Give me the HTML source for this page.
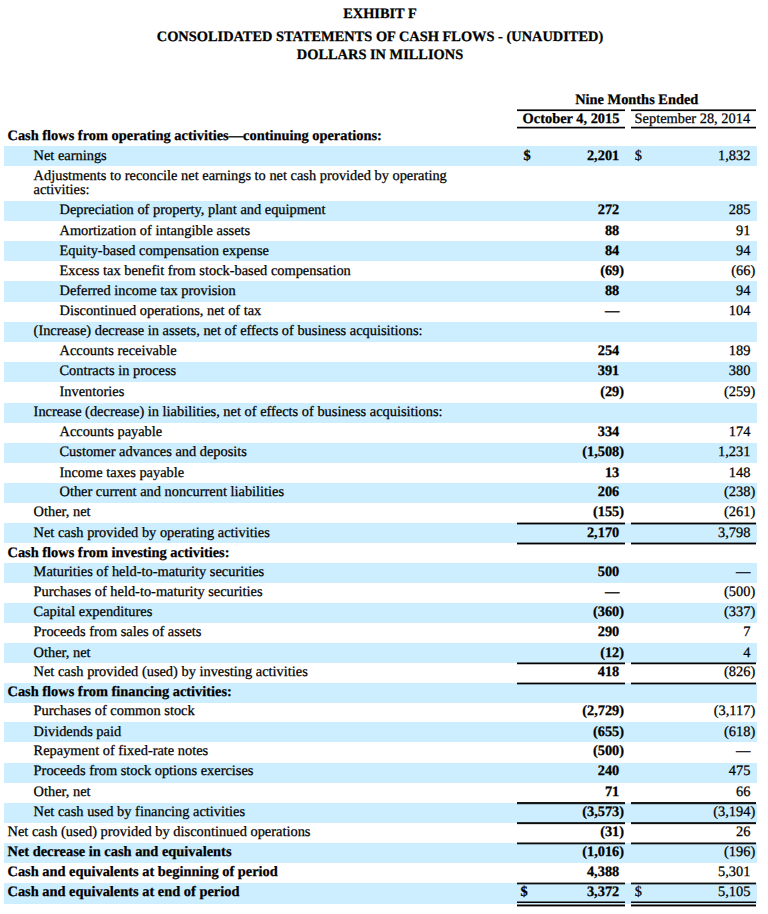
<!DOCTYPE html>
<html><head><meta charset="utf-8"><title>Exhibit F</title>
<style>
html,body{margin:0;padding:0;background:#fff;}
body{width:768px;height:914px;position:relative;overflow:hidden;text-rendering:geometricPrecision;font-family:"Liberation Serif","Times New Roman",serif;font-size:14.40px;color:#000;}
.t{position:absolute;white-space:nowrap;line-height:16px;-webkit-text-stroke:0.25px #000;}
.b{font-weight:bold;}
.bg{position:absolute;left:4px;width:752.5px;background:#cceeff;}
.ln{position:absolute;height:2px;background:#000;}
.r{text-align:right;}
.c{text-align:center;}
</style></head><body>

<div class="t b c" style="left:0;width:760px;top:6.00px">EXHIBIT F</div>
<div class="t b c" style="left:0;width:760px;top:29.00px">CONSOLIDATED STATEMENTS OF CASH FLOWS - (UNAUDITED)</div>
<div class="t b c" style="left:0;width:760px;top:47.00px">DOLLARS IN MILLIONS</div>
<div class="t b c" style="left:517px;width:239.5px;top:92.00px">Nine Months Ended</div>
<div class="t b c" style="left:517px;width:108px;top:111.00px">October 4, 2015</div>
<div class="t c" style="left:629.6px;width:125.5px;top:111.00px">September 28, 2014</div>
<div class="t b" style="left:7.5px;top:128.00px">Cash flows from operating activities—continuing operations:</div>
<div class="bg" style="top:146.30px;height:20.00px"></div>
<div class="t" style="left:33.6px;top:148.00px">Net earnings</div>
<div class="t b" style="left:523.5px;top:148.00px">$</div>
<div class="t" style="left:634.8px;top:148.00px">$</div>
<div class="t r b" style="right:148.70px;top:148.00px">2,201</div>
<div class="t r" style="right:17.60px;top:148.00px">1,832</div>
<div class="t" style="left:33.6px;top:168.00px">Adjustments to reconcile net earnings to net cash provided by operating</div>
<div class="t" style="left:33.6px;top:182.00px">activities:</div>
<div class="bg" style="top:201.30px;height:19.95px"></div>
<div class="t" style="left:59.5px;top:202.00px">Depreciation of property, plant and equipment</div>
<div class="t r b" style="right:148.70px;top:202.00px">272</div>
<div class="t r" style="right:17.60px;top:202.00px">285</div>
<div class="t" style="left:59.5px;top:223.00px">Amortization of intangible assets</div>
<div class="t r b" style="right:148.70px;top:223.00px">88</div>
<div class="t r" style="right:17.60px;top:223.00px">91</div>
<div class="bg" style="top:241.20px;height:20.05px"></div>
<div class="t" style="left:59.5px;top:243.00px">Equity-based compensation expense</div>
<div class="t r b" style="right:148.70px;top:243.00px">84</div>
<div class="t r" style="right:17.60px;top:243.00px">94</div>
<div class="t" style="left:59.5px;top:263.00px">Excess tax benefit from stock-based compensation</div>
<div class="t r b" style="right:148.70px;top:263.00px">(69</div><div class="t b" style="left:619.30px;top:263.00px">)</div>
<div class="t r" style="right:17.60px;top:263.00px">(66</div><div class="t" style="left:750.40px;top:263.00px">)</div>
<div class="bg" style="top:281.30px;height:20.30px"></div>
<div class="t" style="left:59.5px;top:283.00px">Deferred income tax provision</div>
<div class="t r b" style="right:148.70px;top:283.00px">88</div>
<div class="t r" style="right:17.60px;top:283.00px">94</div>
<div class="t" style="left:59.5px;top:303.00px">Discontinued operations, net of tax</div>
<div class="t r b" style="right:148.70px;top:303.00px">—</div>
<div class="t r" style="right:17.60px;top:303.00px">104</div>
<div class="bg" style="top:321.90px;height:19.95px"></div>
<div class="t" style="left:33.6px;top:323.00px">(Increase) decrease in assets, net of effects of business acquisitions:</div>
<div class="t" style="left:59.5px;top:343.00px">Accounts receivable</div>
<div class="t r b" style="right:148.70px;top:343.00px">254</div>
<div class="t r" style="right:17.60px;top:343.00px">189</div>
<div class="bg" style="top:361.80px;height:20.40px"></div>
<div class="t" style="left:59.5px;top:363.00px">Contracts in process</div>
<div class="t r b" style="right:148.70px;top:363.00px">391</div>
<div class="t r" style="right:17.60px;top:363.00px">380</div>
<div class="t" style="left:59.5px;top:384.00px">Inventories</div>
<div class="t r b" style="right:148.70px;top:384.00px">(29</div><div class="t b" style="left:619.30px;top:384.00px">)</div>
<div class="t r" style="right:17.60px;top:384.00px">(259</div><div class="t" style="left:750.40px;top:384.00px">)</div>
<div class="bg" style="top:402.60px;height:20.15px"></div>
<div class="t" style="left:33.6px;top:404.00px">Increase (decrease) in liabilities, net of effects of business acquisitions:</div>
<div class="t" style="left:59.5px;top:424.00px">Accounts payable</div>
<div class="t r b" style="right:148.70px;top:424.00px">334</div>
<div class="t r" style="right:17.60px;top:424.00px">174</div>
<div class="bg" style="top:442.90px;height:20.10px"></div>
<div class="t" style="left:59.5px;top:444.00px">Customer advances and deposits</div>
<div class="t r b" style="right:148.70px;top:444.00px">(1,508</div><div class="t b" style="left:619.30px;top:444.00px">)</div>
<div class="t r" style="right:17.60px;top:444.00px">1,231</div>
<div class="t" style="left:59.5px;top:465.00px">Income taxes payable</div>
<div class="t r b" style="right:148.70px;top:465.00px">13</div>
<div class="t r" style="right:17.60px;top:465.00px">148</div>
<div class="bg" style="top:483.10px;height:20.10px"></div>
<div class="t" style="left:59.5px;top:484.00px">Other current and noncurrent liabilities</div>
<div class="t r b" style="right:148.70px;top:484.00px">206</div>
<div class="t r" style="right:17.60px;top:484.00px">(238</div><div class="t" style="left:750.40px;top:484.00px">)</div>
<div class="t" style="left:33.6px;top:504.00px">Other, net</div>
<div class="t r b" style="right:148.70px;top:504.00px">(155</div><div class="t b" style="left:619.30px;top:504.00px">)</div>
<div class="t r" style="right:17.60px;top:504.00px">(261</div><div class="t" style="left:750.40px;top:504.00px">)</div>
<div class="bg" style="top:523.30px;height:19.95px"></div>
<div class="t" style="left:33.6px;top:525.00px">Net cash provided by operating activities</div>
<div class="t r b" style="right:148.70px;top:525.00px">2,170</div>
<div class="t r" style="right:17.60px;top:525.00px">3,798</div>
<div class="t b" style="left:7.5px;top:545.00px">Cash flows from investing activities:</div>
<div class="bg" style="top:563.20px;height:19.95px"></div>
<div class="t" style="left:33.6px;top:564.00px">Maturities of held-to-maturity securities</div>
<div class="t r b" style="right:148.70px;top:564.00px">500</div>
<div class="t r" style="right:17.60px;top:564.00px">—</div>
<div class="t" style="left:33.6px;top:584.00px">Purchases of held-to-maturity securities</div>
<div class="t r b" style="right:148.70px;top:584.00px">—</div>
<div class="t r" style="right:17.60px;top:584.00px">(500</div><div class="t" style="left:750.40px;top:584.00px">)</div>
<div class="bg" style="top:603.10px;height:20.00px"></div>
<div class="t" style="left:33.6px;top:604.00px">Capital expenditures</div>
<div class="t r b" style="right:148.70px;top:604.00px">(360</div><div class="t b" style="left:619.30px;top:604.00px">)</div>
<div class="t r" style="right:17.60px;top:604.00px">(337</div><div class="t" style="left:750.40px;top:604.00px">)</div>
<div class="t" style="left:33.6px;top:624.00px">Proceeds from sales of assets</div>
<div class="t r b" style="right:148.70px;top:624.00px">290</div>
<div class="t r" style="right:17.60px;top:624.00px">7</div>
<div class="bg" style="top:643.10px;height:19.80px"></div>
<div class="t" style="left:33.6px;top:645.00px">Other, net</div>
<div class="t r b" style="right:148.70px;top:645.00px">(12</div><div class="t b" style="left:619.30px;top:645.00px">)</div>
<div class="t r" style="right:17.60px;top:645.00px">4</div>
<div class="t" style="left:33.6px;top:664.00px">Net cash provided (used) by investing activities</div>
<div class="t r b" style="right:148.70px;top:664.00px">418</div>
<div class="t r" style="right:17.60px;top:664.00px">(826</div><div class="t" style="left:750.40px;top:664.00px">)</div>
<div class="bg" style="top:682.70px;height:19.85px"></div>
<div class="t b" style="left:7.5px;top:684.00px">Cash flows from financing activities:</div>
<div class="t" style="left:33.6px;top:703.00px">Purchases of common stock</div>
<div class="t r b" style="right:148.70px;top:703.00px">(2,729</div><div class="t b" style="left:619.30px;top:703.00px">)</div>
<div class="t r" style="right:17.60px;top:703.00px">(3,117</div><div class="t" style="left:750.40px;top:703.00px">)</div>
<div class="bg" style="top:722.40px;height:20.10px"></div>
<div class="t" style="left:33.6px;top:724.00px">Dividends paid</div>
<div class="t r b" style="right:148.70px;top:724.00px">(655</div><div class="t b" style="left:619.30px;top:724.00px">)</div>
<div class="t r" style="right:17.60px;top:724.00px">(618</div><div class="t" style="left:750.40px;top:724.00px">)</div>
<div class="t" style="left:33.6px;top:743.00px">Repayment of fixed-rate notes</div>
<div class="t r b" style="right:148.70px;top:743.00px">(500</div><div class="t b" style="left:619.30px;top:743.00px">)</div>
<div class="t r" style="right:17.60px;top:743.00px">—</div>
<div class="bg" style="top:762.60px;height:20.05px"></div>
<div class="t" style="left:33.6px;top:763.00px">Proceeds from stock options exercises</div>
<div class="t r b" style="right:148.70px;top:763.00px">240</div>
<div class="t r" style="right:17.60px;top:763.00px">475</div>
<div class="t" style="left:33.6px;top:784.00px">Other, net</div>
<div class="t r b" style="right:148.70px;top:784.00px">71</div>
<div class="t r" style="right:17.60px;top:784.00px">66</div>
<div class="bg" style="top:802.70px;height:20.15px"></div>
<div class="t" style="left:33.6px;top:804.00px">Net cash used by financing activities</div>
<div class="t r b" style="right:148.70px;top:804.00px">(3,573</div><div class="t b" style="left:619.30px;top:804.00px">)</div>
<div class="t r" style="right:17.60px;top:804.00px">(3,194</div><div class="t" style="left:750.40px;top:804.00px">)</div>
<div class="t" style="left:7.5px;top:824.00px">Net cash (used) provided by discontinued operations</div>
<div class="t r b" style="right:148.70px;top:824.00px">(31</div><div class="t b" style="left:619.30px;top:824.00px">)</div>
<div class="t r" style="right:17.60px;top:824.00px">26</div>
<div class="bg" style="top:843.00px;height:20.20px"></div>
<div class="t b" style="left:7.5px;top:844.00px">Net decrease in cash and equivalents</div>
<div class="t r b" style="right:148.70px;top:844.00px">(1,016</div><div class="t b" style="left:619.30px;top:844.00px">)</div>
<div class="t r" style="right:17.60px;top:844.00px">(196</div><div class="t" style="left:750.40px;top:844.00px">)</div>
<div class="t b" style="left:7.5px;top:864.00px">Cash and equivalents at beginning of period</div>
<div class="t r b" style="right:148.70px;top:864.00px">4,388</div>
<div class="t r" style="right:17.60px;top:864.00px">5,301</div>
<div class="bg" style="top:883.40px;height:20.30px"></div>
<div class="t b" style="left:7.5px;top:884.00px">Cash and equivalents at end of period</div>
<div class="t b" style="left:520.5px;top:884.00px">$</div>
<div class="t" style="left:634.8px;top:884.00px">$</div>
<div class="t r b" style="right:148.70px;top:884.00px">3,372</div>
<div class="t r" style="right:17.60px;top:884.00px">5,105</div>
<div class="ln" style="left:517px;width:108px;top:109px;height:1px;background:rgba(0,0,0,0.60)"></div>
<div class="ln" style="left:631px;width:125px;top:109px;height:1px;background:rgba(0,0,0,0.60)"></div>
<div class="ln" style="left:517px;width:108px;top:110px;height:1px;background:#000"></div>
<div class="ln" style="left:631px;width:125px;top:110px;height:1px;background:#000"></div>
<div class="ln" style="left:517px;width:108px;top:111px;height:1px;background:rgba(0,0,0,0.10)"></div>
<div class="ln" style="left:631px;width:125px;top:111px;height:1px;background:rgba(0,0,0,0.10)"></div>
<div class="ln" style="left:517px;width:108px;top:126px;height:1px;background:rgba(0,0,0,0.25)"></div>
<div class="ln" style="left:631px;width:125px;top:126px;height:1px;background:rgba(0,0,0,0.25)"></div>
<div class="ln" style="left:517px;width:108px;top:127px;height:1px;background:#000"></div>
<div class="ln" style="left:631px;width:125px;top:127px;height:1px;background:#000"></div>
<div class="ln" style="left:517px;width:108px;top:128px;height:1px;background:rgba(0,0,0,0.45)"></div>
<div class="ln" style="left:631px;width:125px;top:128px;height:1px;background:rgba(0,0,0,0.45)"></div>
<div class="ln" style="left:517px;width:108px;top:522px;height:1px;background:rgba(0,0,0,0.40)"></div>
<div class="ln" style="left:631px;width:125px;top:522px;height:1px;background:rgba(0,0,0,0.40)"></div>
<div class="ln" style="left:517px;width:108px;top:523px;height:1px;background:#000"></div>
<div class="ln" style="left:631px;width:125px;top:523px;height:1px;background:#000"></div>
<div class="ln" style="left:517px;width:108px;top:524px;height:1px;background:rgba(0,0,0,0.40)"></div>
<div class="ln" style="left:631px;width:125px;top:524px;height:1px;background:rgba(0,0,0,0.40)"></div>
<div class="ln" style="left:517px;width:108px;top:542px;height:1px;background:rgba(0,0,0,0.40)"></div>
<div class="ln" style="left:631px;width:125px;top:542px;height:1px;background:rgba(0,0,0,0.40)"></div>
<div class="ln" style="left:517px;width:108px;top:543px;height:1px;background:#000"></div>
<div class="ln" style="left:631px;width:125px;top:543px;height:1px;background:#000"></div>
<div class="ln" style="left:517px;width:108px;top:544px;height:1px;background:rgba(0,0,0,0.40)"></div>
<div class="ln" style="left:631px;width:125px;top:544px;height:1px;background:rgba(0,0,0,0.40)"></div>
<div class="ln" style="left:517px;width:108px;top:662px;height:1px;background:rgba(0,0,0,0.50)"></div>
<div class="ln" style="left:631px;width:125px;top:662px;height:1px;background:rgba(0,0,0,0.50)"></div>
<div class="ln" style="left:517px;width:108px;top:663px;height:1px;background:#000"></div>
<div class="ln" style="left:631px;width:125px;top:663px;height:1px;background:#000"></div>
<div class="ln" style="left:517px;width:108px;top:664px;height:1px;background:rgba(0,0,0,0.25)"></div>
<div class="ln" style="left:631px;width:125px;top:664px;height:1px;background:rgba(0,0,0,0.25)"></div>
<div class="ln" style="left:517px;width:108px;top:682px;height:1px;background:rgba(0,0,0,0.40)"></div>
<div class="ln" style="left:631px;width:125px;top:682px;height:1px;background:rgba(0,0,0,0.40)"></div>
<div class="ln" style="left:517px;width:108px;top:683px;height:1px;background:#000"></div>
<div class="ln" style="left:631px;width:125px;top:683px;height:1px;background:#000"></div>
<div class="ln" style="left:517px;width:108px;top:684px;height:1px;background:rgba(0,0,0,0.35)"></div>
<div class="ln" style="left:631px;width:125px;top:684px;height:1px;background:rgba(0,0,0,0.35)"></div>
<div class="ln" style="left:517px;width:108px;top:802px;height:1px;background:rgba(0,0,0,0.90)"></div>
<div class="ln" style="left:631px;width:125px;top:802px;height:1px;background:rgba(0,0,0,0.90)"></div>
<div class="ln" style="left:517px;width:108px;top:803px;height:1px;background:rgba(0,0,0,0.90)"></div>
<div class="ln" style="left:631px;width:125px;top:803px;height:1px;background:rgba(0,0,0,0.90)"></div>
<div class="ln" style="left:517px;width:108px;top:804px;height:1px;background:rgba(0,0,0,0.20)"></div>
<div class="ln" style="left:631px;width:125px;top:804px;height:1px;background:rgba(0,0,0,0.20)"></div>
<div class="ln" style="left:517px;width:108px;top:822px;height:1px;background:rgba(0,0,0,0.80)"></div>
<div class="ln" style="left:631px;width:125px;top:822px;height:1px;background:rgba(0,0,0,0.80)"></div>
<div class="ln" style="left:517px;width:108px;top:823px;height:1px;background:rgba(0,0,0,0.95)"></div>
<div class="ln" style="left:631px;width:125px;top:823px;height:1px;background:rgba(0,0,0,0.95)"></div>
<div class="ln" style="left:517px;width:108px;top:824px;height:1px;background:rgba(0,0,0,0.15)"></div>
<div class="ln" style="left:631px;width:125px;top:824px;height:1px;background:rgba(0,0,0,0.15)"></div>
<div class="ln" style="left:517px;width:108px;top:842px;height:1px;background:rgba(0,0,0,0.50)"></div>
<div class="ln" style="left:631px;width:125px;top:842px;height:1px;background:rgba(0,0,0,0.50)"></div>
<div class="ln" style="left:517px;width:108px;top:843px;height:1px;background:rgba(0,0,0,0.95)"></div>
<div class="ln" style="left:631px;width:125px;top:843px;height:1px;background:rgba(0,0,0,0.95)"></div>
<div class="ln" style="left:517px;width:108px;top:844px;height:1px;background:rgba(0,0,0,0.30)"></div>
<div class="ln" style="left:631px;width:125px;top:844px;height:1px;background:rgba(0,0,0,0.30)"></div>
<div class="ln" style="left:517px;width:108px;top:882px;height:1px;background:rgba(0,0,0,0.40)"></div>
<div class="ln" style="left:631px;width:125px;top:882px;height:1px;background:rgba(0,0,0,0.40)"></div>
<div class="ln" style="left:517px;width:108px;top:883px;height:1px;background:rgba(0,0,0,0.95)"></div>
<div class="ln" style="left:631px;width:125px;top:883px;height:1px;background:rgba(0,0,0,0.95)"></div>
<div class="ln" style="left:517px;width:108px;top:884px;height:1px;background:rgba(0,0,0,0.35)"></div>
<div class="ln" style="left:631px;width:125px;top:884px;height:1px;background:rgba(0,0,0,0.35)"></div>
<div class="ln" style="left:517px;width:108px;top:901px;height:1px;background:rgba(0,0,0,0.50)"></div>
<div class="ln" style="left:631px;width:125px;top:901px;height:1px;background:rgba(0,0,0,0.50)"></div>
<div class="ln" style="left:517px;width:108px;top:902px;height:1px;background:#000"></div>
<div class="ln" style="left:631px;width:125px;top:902px;height:1px;background:#000"></div>
<div class="ln" style="left:517px;width:108px;top:904px;height:1px;background:rgba(0,0,0,0.50)"></div>
<div class="ln" style="left:631px;width:125px;top:904px;height:1px;background:rgba(0,0,0,0.50)"></div>
<div class="ln" style="left:517px;width:108px;top:905px;height:1px;background:#000"></div>
<div class="ln" style="left:631px;width:125px;top:905px;height:1px;background:#000"></div>
<div class="ln" style="left:517px;width:108px;top:906px;height:1px;background:rgba(0,0,0,0.40)"></div>
<div class="ln" style="left:631px;width:125px;top:906px;height:1px;background:rgba(0,0,0,0.40)"></div>
</body></html>
